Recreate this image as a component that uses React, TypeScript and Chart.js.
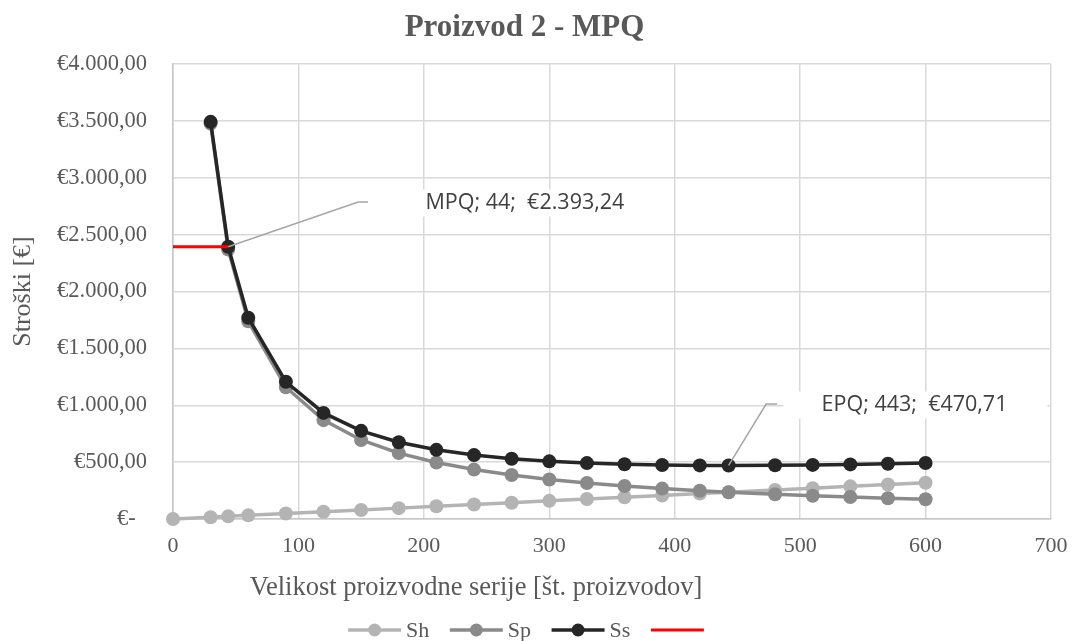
import React, { useEffect, useRef } from 'react';
import { Chart, registerables } from 'chart.js';

Chart.register(...registerables);

// ---------- data ----------
const TITLE = 'Proizvod 2 - MPQ';
const X_TITLE = 'Velikost proizvodne serije [št. proizvodov]';
const Y_TITLE = 'Stroški [€]';

const seriesLabels = ['Sh', 'Sp', 'Ss', ''];

// batch sizes for holding cost (starts at 0)
const qSh = [0, 30, 44, 60, 90, 120, 150, 180, 210, 240, 270, 300, 330, 360, 390, 420, 443, 480, 510, 540, 570, 600];
// batch sizes for setup / total cost
const qCost = [30, 44, 60, 90, 120, 150, 180, 210, 240, 270, 300, 330, 360, 390, 420, 443, 480, 510, 540, 570, 600];

const shValues = [0, 15.9, 23.4, 31.9, 47.8, 63.8, 79.7, 95.6, 111.6, 127.5, 143.5, 159.4, 175.3, 191.3, 207.2, 223.1, 235.4, 255.0, 271.0, 286.9, 302.8, 318.8];
const spValues = [3475.4, 2369.6, 1737.7, 1158.5, 868.9, 695.1, 579.2, 496.5, 434.4, 386.2, 347.5, 316.0, 289.6, 267.3, 248.2, 235.4, 217.2, 204.4, 193.1, 182.9, 173.8];
const ssValues = [3491.3, 2393.2, 1769.6, 1206.3, 932.6, 774.8, 674.9, 608.1, 561.9, 529.6, 506.9, 491.3, 480.9, 474.5, 471.4, 470.7, 472.2, 475.4, 480.0, 485.8, 492.5];

const mpqQ = 44;
const mpqCost = 2393.24;
const epqQ = 443;
const epqCost = 470.71;
const mpqLabel = 'MPQ; 44;  €2.393,24';
const epqLabel = 'EPQ; 443;  €470,71';

const xMin = 0;
const xMax = 700;
const xStep = 100;
const yMin = 0;
const yMax = 4000;
const yStep = 500;

// ---------- styles ----------
const SERIF = '"Times New Roman", "Liberation Serif", serif';
const SANS = '"Open Sans", "Noto Sans", sans-serif';
const TEXT = '#595959';
const GRID = '#d9d9d9';
const seriesColors = ['#b4b4b4', '#8a8a8a', '#262626', '#ff0000'];

// callouts: anchor point, bend and label placement (in data units)
const callouts = [
  { px: mpqQ, py: mpqCost, bx: 147.6, by: 2787, ex: 155.5, tx: 201.3, ty: 2778, text: mpqLabel },
  { px: epqQ, py: epqCost, bx: 472.9, by: 1011, ex: 481.6, tx: 517.1, ty: 1002, text: epqLabel },
];

function fmtEuro(v: number): string {
  if (v === 0) return '€-  ';
  const s = v.toFixed(2);
  const [i, d] = s.split('.');
  return '€' + i.replace(/\B(?=(\d{3})+(?!\d))/g, '.') + ',' + d;
}

const toPts = (xs: number[], ys: number[]) => xs.map((x, k) => ({ x, y: ys[k] }));

const calloutPlugin = {
  id: 'callouts',
  afterDatasetsDraw(chart: any) {
    const { ctx, scales } = chart;
    const xs = scales.x;
    const ys = scales.y;
    ctx.save();
    ctx.font = `21.5px ${SANS}`;
    for (const c of callouts) {
      const tx = xs.getPixelForValue(c.tx);
      const ty = ys.getPixelForValue(c.ty);
      const w = ctx.measureText(c.text).width;
      ctx.fillStyle = '#ffffff';
      ctx.fillRect(tx - 38, ty - 13.5, w + 78, 27);
      ctx.strokeStyle = '#a6a6a6';
      ctx.lineWidth = 1.5;
      ctx.beginPath();
      ctx.moveTo(xs.getPixelForValue(c.px), ys.getPixelForValue(c.py));
      ctx.lineTo(xs.getPixelForValue(c.bx), ys.getPixelForValue(c.by));
      ctx.lineTo(xs.getPixelForValue(c.ex), ys.getPixelForValue(c.by));
      ctx.stroke();
      ctx.fillStyle = '#404040';
      ctx.textAlign = 'left';
      ctx.textBaseline = 'middle';
      ctx.fillText(c.text, tx, ty);
    }
    ctx.restore();
  },
};

const legendPlugin = {
  id: 'customLegendAndXTitle',
  afterDraw(chart: any) {
    const { ctx } = chart;
    ctx.save();
    // x-axis title
    ctx.font = `26.5px ${SERIF}`;
    ctx.fillStyle = TEXT;
    ctx.textAlign = 'center';
    ctx.textBaseline = 'middle';
    ctx.fillText(X_TITLE, 476, 588);

    // legend
    const lineLen = 53;
    const gapText = 5;
    const gapItem = 20.5;
    const centerX = 526;
    const y = 630;
    ctx.font = `22px ${SERIF}`;
    const ds = chart.data.datasets;
    const widths = ds.map((d: any) => lineLen + (d.label ? gapText + ctx.measureText(d.label).width : 0));
    const total = widths.reduce((a: number, b: number) => a + b, 0) + gapItem * (ds.length - 1);
    let x = centerX - total / 2;
    ds.forEach((d: any, i: number) => {
      ctx.strokeStyle = d.borderColor;
      ctx.lineWidth = d.borderWidth;
      ctx.beginPath();
      ctx.moveTo(x, y);
      ctx.lineTo(x + lineLen, y);
      ctx.stroke();
      if (d.pointRadius > 0) {
        ctx.fillStyle = d.pointBackgroundColor;
        ctx.beginPath();
        ctx.arc(x + lineLen / 2, y, 6.5, 0, Math.PI * 2);
        ctx.fill();
      }
      if (d.label) {
        ctx.fillStyle = TEXT;
        ctx.textAlign = 'left';
        ctx.textBaseline = 'middle';
        ctx.fillText(d.label, x + lineLen + gapText, y + 1);
      }
      x += widths[i] + gapItem;
    });
    ctx.restore();
  },
};

export default function App() {
  const ref = useRef<HTMLCanvasElement | null>(null);

  useEffect(() => {
    if (!ref.current) return;
    const mk = (label: string, data: any[], color: string, order: number, marker: boolean) => ({
      label,
      data,
      showLine: true,
      clip: false,
      borderColor: color,
      backgroundColor: color,
      pointBackgroundColor: color,
      pointBorderColor: color,
      borderWidth: marker ? 3.5 : 3,
      pointRadius: marker ? 7 : 0,
      pointBorderWidth: 0,
      pointHoverRadius: marker ? 7 : 0,
      order,
      tension: 0,
    });
    const chart = new Chart(ref.current, {
      type: 'scatter',
      data: {
        datasets: [
          mk(seriesLabels[0], toPts(qSh, shValues), seriesColors[0], 3, true),
          mk(seriesLabels[1], toPts(qCost, spValues), seriesColors[1], 2, true),
          mk(seriesLabels[2], toPts(qCost, ssValues), seriesColors[2], 1, true),
          mk(seriesLabels[3], [{ x: 0, y: mpqCost }, { x: mpqQ, y: mpqCost }], seriesColors[3], 0, false),
        ],
      },
      options: {
        animation: false,
        responsive: false,
        events: [],
        layout: { padding: { left: -11, right: 22, top: 0, bottom: 0 } },
        plugins: {
          legend: { display: false },
          tooltip: { enabled: false },
          title: {
            display: true,
            text: TITLE,
            color: TEXT,
            font: { family: SERIF, size: 31, weight: 'bold' },
            padding: { top: 9.4, bottom: 17.4 },
          },
        },
        scales: {
          x: {
            type: 'linear',
            min: xMin,
            max: xMax,
            ticks: { stepSize: xStep, color: TEXT, font: { family: SERIF, size: 22 }, padding: 14.5, maxRotation: 0 },
            grid: { color: GRID, lineWidth: 1.5, drawTicks: false },
            border: { color: '#c6c6c6', width: 1.5 },
            afterFit: (s: any) => { s.height = 122; },
          },
          y: {
            type: 'linear',
            min: yMin,
            max: yMax,
            ticks: { stepSize: yStep, color: TEXT, font: { family: SERIF, size: 22.5 }, padding: 26, callback: (v: any) => fmtEuro(Number(v)) },
            grid: { color: GRID, lineWidth: 1.5, drawTicks: false },
            border: { color: '#c6c6c6', width: 1.5 },
            title: { display: true, text: Y_TITLE, color: TEXT, font: { family: SERIF, size: 26 }, padding: { top: 18.4, bottom: 0 } },
            afterFit: (s: any) => { s.width = 184; },
          },
        },
      },
      plugins: [calloutPlugin, legendPlugin],
    } as any);
    return () => chart.destroy();
  }, []);

  return (
    <div style={{ position: 'fixed', left: 0, top: 0, width: 1082, height: 641, background: '#fff' }}>
      <canvas ref={ref} width={1082} height={641} style={{ display: 'block' }} />
    </div>
  );
}
